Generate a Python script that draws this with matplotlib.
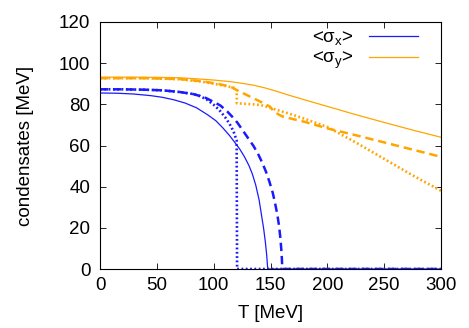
import matplotlib
matplotlib.use('Agg')
import matplotlib.pyplot as plt

plt.rcParams['font.family'] = ['Liberation Sans', 'DejaVu Sans']
plt.rcParams['mathtext.fontset'] = 'custom'
plt.rcParams['mathtext.rm'] = 'Liberation Sans'
plt.rcParams['mathtext.it'] = 'Liberation Sans:italic'
plt.rcParams['lines.scale_dashes'] = False

# sigma_x (blue)
T_x_solid = [0, 15, 30, 45, 55, 65, 75, 85, 95, 102, 108, 114, 119, 123, 127, 131, 134, 137,
             140, 142, 144, 145.5, 146.6, 147.3, 147.6, 200, 300]
sx_solid = [85.5, 85.4, 85.0, 84.2, 83.4, 82.2, 80.6, 78.3, 74.8, 72.0, 68.6, 64.8, 61.2, 58.2,
            54.6, 50.3, 46.2, 40.8, 33.5, 26.5, 19.5, 13, 7, 2, 0, 0, 0]

T_x_dash = [0, 20, 40, 55, 70, 82, 92, 100, 106, 112, 117, 121, 126, 131, 135, 139, 143, 146,
            149, 152, 154, 156, 157.5, 158.7, 159.5, 160, 160.4, 300]
sx_dash = [87.3, 87.3, 87.1, 86.8, 86.0, 85.0, 83.4, 81.2, 79.4, 76.5, 73.6, 71.0, 67.0, 63.0,
           59.8, 56.0, 51.3, 47.3, 42.5, 37, 32, 26.5, 21, 15, 9.5, 5, 0, 0]

T_x_dot = [0, 20, 40, 55, 70, 82, 88, 94, 100, 105, 110, 114, 117.5, 120.2, 120.6, 300]
sx_dot = [87.3, 87.3, 87.1, 86.8, 86.0, 85.0, 84.0, 82.3, 79.8, 77.2, 73.8, 70.5, 66.8, 62.5, 0, 0]

# sigma_y (orange)
T_y_solid = [0, 30, 53, 70, 85, 100, 115, 125, 135, 145, 155, 167, 180, 200, 225, 250, 275, 300]
sy_solid = [93.2, 93.2, 93.1, 92.9, 92.4, 91.8, 91.0, 90.2, 89.3, 88.0, 86.4, 84.3, 82.2, 79.0,
            75.0, 71.2, 67.5, 64.0]

T_y_dash = [0, 40, 70, 90, 105, 115, 120, 130, 140, 149.5, 153, 158, 161, 180, 200, 225, 250, 275, 300]
sy_dash = [92.7, 92.7, 92.3, 91.2, 89.8, 88.5, 87, 84.3, 81.6, 78.9, 76.5, 74.8, 74, 71.5, 68.3,
           65, 61.5, 58, 54.5]

T_y_dot = [0, 40, 70, 90, 100, 110, 118, 120.2, 120.4, 130, 141, 150, 155.4, 165.7, 180, 200,
           225, 250, 275, 300]
sy_dot = [92.7, 92.7, 92.2, 91, 90, 89, 88, 87.5, 80.5, 80.2, 79.7, 78.3, 77.3, 75.6, 73, 69,
          61.5, 53.5, 45.5, 38]

blue = '#1a1aff'
orange = '#ffa500'
fs = 13.5

fig = plt.figure(figsize=(4.69, 3.28), dpi=100)
ax = fig.add_axes([100/469, 59/328, 341/469, 247/328])

l1, = ax.plot(T_x_solid, sx_solid, color=blue, lw=0.9)
ax.plot(T_x_dash, sx_dash, color=blue, lw=1.8, dashes=(6, 3.5))
ax.plot(T_x_dot, sx_dot, color=blue, lw=1.9, dashes=(1.3, 1.8))
l2, = ax.plot(T_y_solid, sy_solid, color=orange, lw=0.9)
ax.plot(T_y_dash, sy_dash, color=orange, lw=1.8, dashes=(6, 3.5))
ax.plot(T_y_dot, sy_dot, color=orange, lw=1.9, dashes=(1.3, 1.8))

ax.set_xlim(0, 300)
ax.set_ylim(0, 120)
ax.set_xticks([0, 50, 100, 150, 200, 250, 300])
ax.set_yticks([0, 20, 40, 60, 80, 100, 120])
ax.tick_params(direction='in', top=True, right=True, length=4, width=0.6,
               labelsize=fs, colors='black')
ax.tick_params(axis='x', pad=6)
ax.tick_params(axis='y', pad=7)
for s in ax.spines.values():
    s.set_linewidth(0.8)

ax.set_xlabel('T [MeV]', fontsize=fs, labelpad=8)
ax.set_ylabel('condensates [MeV]', fontsize=fs, labelpad=18)

ax.legend([l1, l2], [r'<σ$_\mathrm{x}$>', r'<σ$_\mathrm{y}$>'], loc='upper right',
          markerfirst=False, frameon=False, fontsize=fs, handlelength=2.6,
          handletextpad=0.8, labelspacing=0.15, borderaxespad=0.3,
          bbox_to_anchor=(0.97, 1.025))

fig.savefig('out.png', dpi=100)
